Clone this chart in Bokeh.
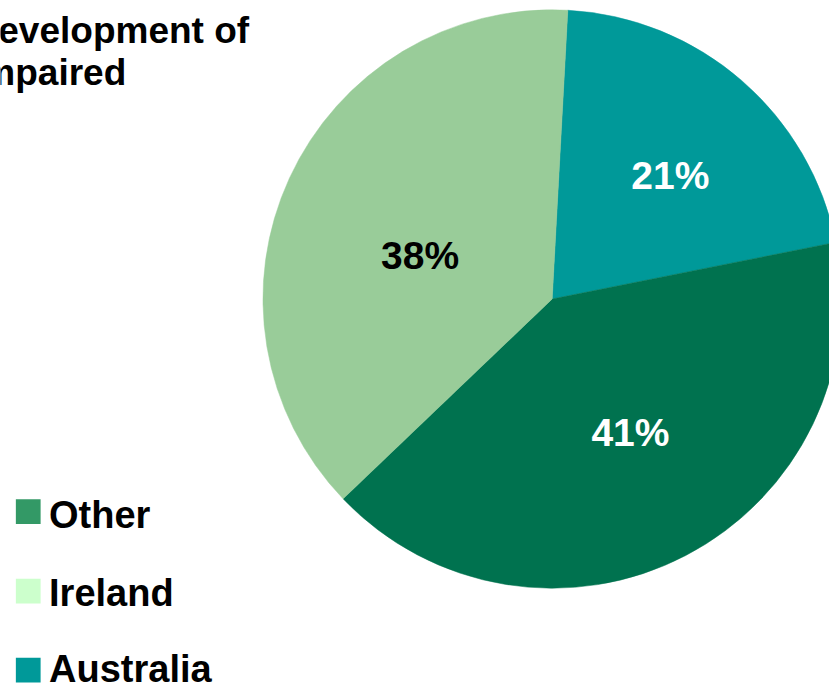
import math
from bokeh.plotting import figure
from bokeh.models import ColumnDataSource, Range1d
from bokeh.core.properties import value
from bokeh.embed import file_html
from bokeh.resources import INLINE

# ---- data ----
categories = ["Australia", "Other", "Ireland"]          # clockwise order in the pie
shares = [21, 41, 38]
pct_labels = ["21%", "41%", "38%"]
slice_colors = ["#009999", "#00724F", "#99CC99"]
label_colors = ["#FFFFFF", "#FFFFFF", "#000000"]

legend_names = ["Other", "Ireland", "Australia"]
legend_colors = ["#339966", "#CCFFCC", "#009999"]

title_lines = ["Development of", "impaired"]

# ---- layout: data units = reference pixels ----
W, H = 829, 685
FONT = "Liberation Sans"
p = figure(width=W, height=H, output_backend="svg", toolbar_location=None,
           x_range=Range1d(0, 837), y_range=Range1d(0, 693),
           min_border=0, outline_line_color=None)
p.axis.visible = False
p.grid.visible = False
p.background_fill_color = "white"
p.border_fill_color = "white"

def sy(y):  # convert top-down pixel y to data y
    return 693 - y

cx, cy, R = 557, sy(302), 292
start_offset = 3.1  # degrees clockwise from 12 o'clock

total = sum(shares)
starts, ends, lx, ly = [], [], [], []
label_r = [0.60, 0.527, 0.485]
label_da = [2.0, -3.4, -5.1]   # angular nudge of label (deg, clockwise)
acc = start_offset
for i, s in enumerate(shares):
    a0 = acc
    a1 = acc + 360.0 * s / total
    acc = a1
    starts.append(math.radians(90 - a0))
    ends.append(math.radians(90 - a1))
    mid = math.radians(90 - ((a0 + a1) / 2 + label_da[i]))
    lx.append(cx + label_r[i] * R * math.cos(mid))
    ly.append(cy + label_r[i] * R * math.sin(mid) - 3)

src = ColumnDataSource(dict(start=starts, end=ends, color=slice_colors,
                            lx=lx, ly=ly, lab=pct_labels, lc=label_colors))
p.wedge(x=cx, y=cy, radius=R, start_angle="start", end_angle="end",
        direction="clock", fill_color="color", line_color="color", line_width=0.5,
        source=src)
p.text(x="lx", y="ly", text="lab", text_color="lc", source=src,
       text_font=value(FONT), text_font_style="bold", text_font_size="39px",
       text_align="center", text_baseline="middle")

# title (cropped at the left edge like the reference)
p.text(x=[251, 127], y=[sy(30), sy(73)], text=title_lines,
       text_font=value(FONT), text_font_style="bold", text_font_size="37px",
       text_align="right", text_baseline="middle", text_color="black")

# legend
leg_y = [sy(517), sy(597.5), sy(677.5)]
text_y = [sy(521), sy(599), sy(676)]
lsrc = ColumnDataSource(dict(x=[28] * 3, y=leg_y, ty=text_y, tx=[49] * 3,
                             name=legend_names, color=legend_colors))
p.rect(x="x", y="y", width=25, height=25, fill_color="color", line_color=None,
       source=lsrc)
p.text(x="tx", y="ty", text="name", source=lsrc, text_font=value(FONT),
       text_font_style="bold", text_font_size="38px", text_align="left",
       text_baseline="middle", text_color="black")

open("out.html", "w").write(file_html(p, INLINE))
